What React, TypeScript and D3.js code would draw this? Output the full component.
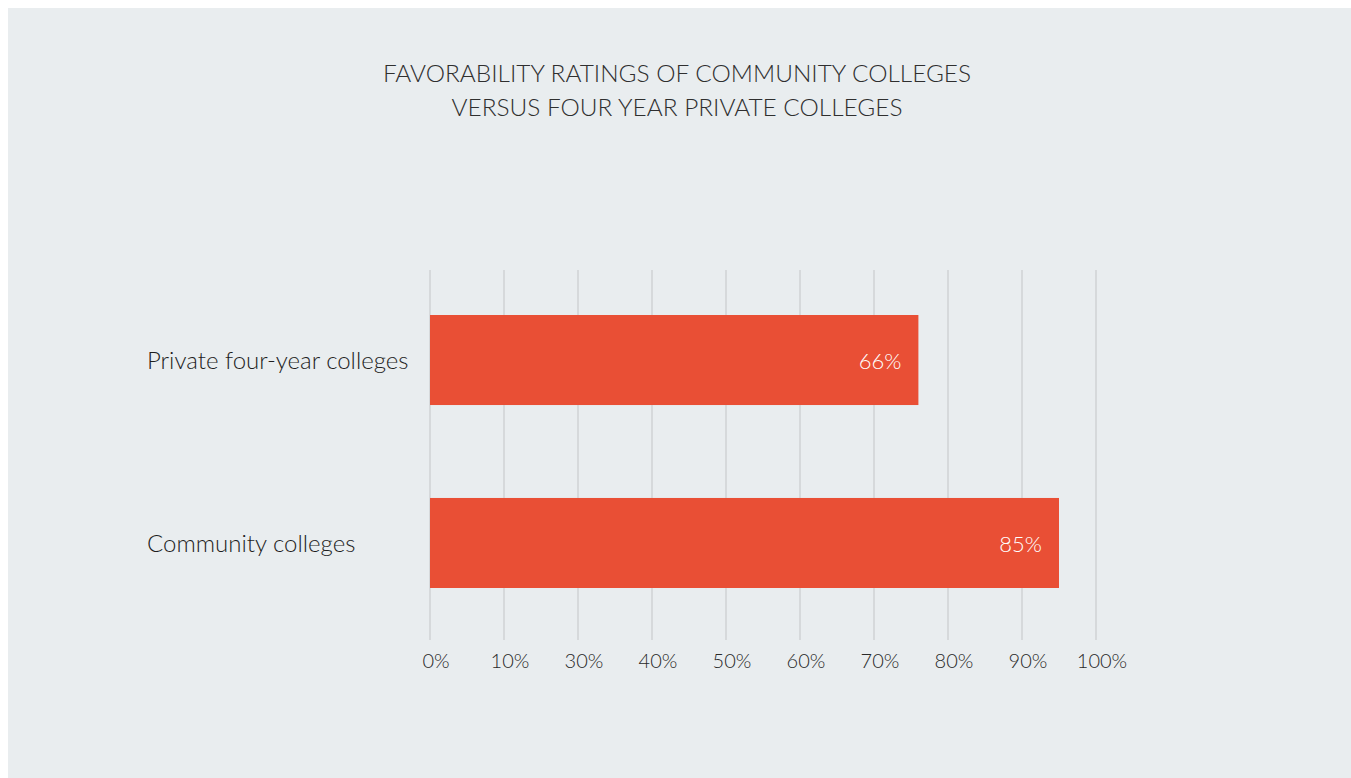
import React from "react";
import * as d3 from "d3";

const title = ["FAVORABILITY RATINGS OF COMMUNITY COLLEGES", "VERSUS FOUR YEAR PRIVATE COLLEGES"];
const categories = ["Private four-year colleges", "Community colleges"];
const values = [66, 85];
const gridValues = [0, 10, 20, 30, 40, 50, 60, 70, 80, 90];
const tickLabels = ["0%", "10%", "30%", "40%", "50%", "60%", "70%", "80%", "90%", "100%"];

const W = 1351;
const H = 778;

export default function App() {
  const x = d3.scaleLinear().domain([0, 90]).range([430, 1096]);
  const y = d3
    .scaleBand<string>()
    .domain(categories)
    .range([270, 633])
    .paddingInner(0.508)
    .paddingOuter(0.246);
  const font = "Lato, 'Open Sans', sans-serif";
  return (
    <svg
      width={W}
      height={H}
      style={{ position: "fixed", left: 0, top: 0, display: "block" }}
    >
      <rect x={0} y={0} width={W} height={H} fill="#ffffff" />
      <rect x={8} y={8} width={W - 8} height={H - 8} fill="#e9edef" />
      <g fontFamily={font} fontWeight={300} fill="#2f2f2f">
        {title.map((t, i) => (
          <text key={t} x={677} y={82 + i * 34} textAnchor="middle" fontSize={24.4}>
            {t}
          </text>
        ))}
      </g>
      <g>
        {gridValues.map((v) => (
          <line
            key={v}
            x1={x(v)}
            x2={x(v)}
            y1={270}
            y2={640}
            stroke="#d6d9db"
            strokeWidth={2}
          />
        ))}
      </g>
      <g>
        {categories.map((c, i) => (
          <rect
            key={c}
            x={x(0)}
            y={y(c)}
            width={x(values[i]) - x(0)}
            height={y.bandwidth()}
            fill="#e94f35"
          />
        ))}
      </g>
      <g fontFamily={font} fontWeight={300}>
        {categories.map((c, i) => (
          <text
            key={c}
            x={x(values[i]) - 17}
            y={(y(c) as number) + y.bandwidth() / 2 + 1}
            dy="0.35em"
            textAnchor="end"
            fontSize={22}
            fill="#ffffff"
          >
            {values[i] + "%"}
          </text>
        ))}
        {categories.map((c) => (
          <text
            key={c + "l"}
            x={147}
            y={(y(c) as number) + y.bandwidth() / 2 + 1}
            dy="0.35em"
            textAnchor="start"
            fontSize={24}
            fill="#1e1e1e"
          >
            {c}
          </text>
        ))}
        {gridValues.map((v, i) => (
          <text
            key={"t" + v}
            x={x(v) + 6}
            y={661}
            dy="0.35em"
            textAnchor="middle"
            fontSize={20}
            fill="#2a2a2a"
          >
            {tickLabels[i]}
          </text>
        ))}
      </g>
    </svg>
  );
}
